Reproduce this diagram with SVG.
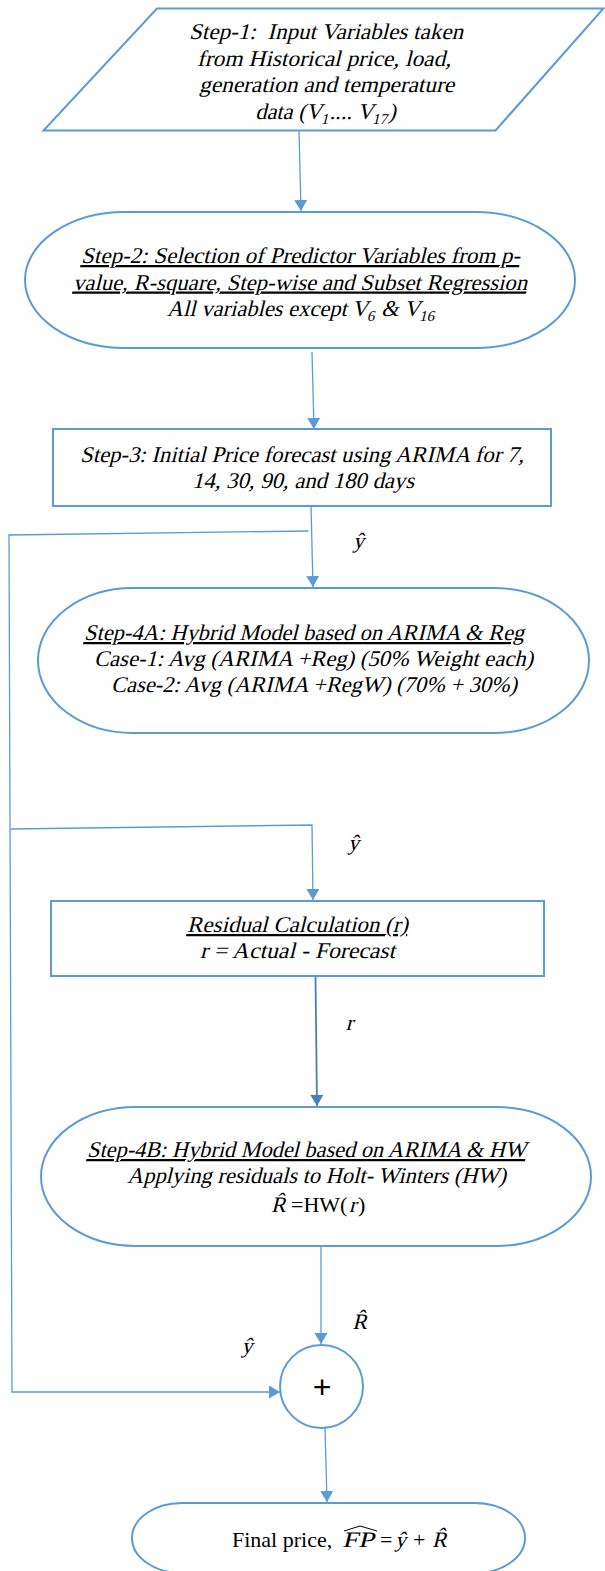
<svg xmlns="http://www.w3.org/2000/svg" width="605" height="1571" viewBox="0 0 605 1571">
<style>
.shape{fill:#fff;stroke:#5b9bd5;stroke-width:2}
.conn{fill:none;stroke:#5b9bd5;stroke-width:1.3}
.t{font-family:"Liberation Serif","Times New Roman",serif;font-size:22.5px;fill:#000;text-anchor:middle}
.s{font-family:"Liberation Serif","Times New Roman",serif;font-size:22px;fill:#000}
.u{text-decoration:underline}
.lbl{font-family:"Liberation Serif","Times New Roman",serif;font-size:22px;fill:#000;text-anchor:middle}
</style>
<defs>
<marker id="ah" markerUnits="userSpaceOnUse" markerWidth="12" markerHeight="14" refX="11" refY="6.5" orient="auto"><path d="M0,0 L11,6.5 L0,13 z" fill="#5b9bd5"/></marker>
<marker id="ahd" markerUnits="userSpaceOnUse" markerWidth="12" markerHeight="14" refX="11" refY="6.5" orient="auto"><path d="M0,0 L11,6.5 L0,13 z" fill="#4a7ebb"/></marker>
</defs>
<g id="connectors">
<path class="conn" d="M299,131 L301,211" marker-end="url(#ah)"/>
<path class="conn" d="M312,352 L314,429" marker-end="url(#ah)"/>
<path class="conn" d="M311,506 L313,587" marker-end="url(#ah)"/>
<path class="conn" d="M308.5,531 L9,535 L12,1392 L280,1392" marker-end="url(#ah)"/>
<path class="conn" d="M11,829 L312,825 L313,900" marker-end="url(#ah)"/>
<path d="M315.5,977 L317,1106" fill="none" stroke="#4a7ebb" stroke-width="1.8" marker-end="url(#ahd)"/>
<path class="conn" d="M321,1246 L321,1344" marker-end="url(#ah)"/>
<path class="conn" d="M325,1428 L327,1502" marker-end="url(#ah)"/>
<text class="lbl" transform="translate(358.5,548) skewX(-14)">ŷ</text>
<text class="lbl" transform="translate(353.5,850) skewX(-14)">ŷ</text>
<text class="lbl" transform="translate(349.5,1030) skewX(-14)">r</text>
<text class="lbl" transform="translate(359.5,1329) skewX(-14)">R̂</text>
<text class="lbl" transform="translate(247,1353) skewX(-14)">ŷ</text>
</g>
<g id="step1">
<polygon class="shape" points="157,8.5 603.5,8.5 495.5,130.5 43.5,130.5"/>
<text class="t" transform="translate(326,39) skewX(-14)" textLength="274" lengthAdjust="spacingAndGlyphs" xml:space="preserve">Step-1:  Input Variables taken</text>
<text class="t" transform="translate(324,65.5) skewX(-14)" textLength="254" lengthAdjust="spacingAndGlyphs">from Historical price, load,</text>
<text class="t" transform="translate(326.5,92) skewX(-14)" textLength="255" lengthAdjust="spacingAndGlyphs">generation and temperature</text>
<text class="t" transform="translate(325.5,118.5) skewX(-14)">data (V<tspan font-size="15" dy="5">1</tspan><tspan dy="-5">.... V</tspan><tspan font-size="15" dy="5">17</tspan><tspan dy="-5">)</tspan></text>
</g>
<g id="step2">
<rect class="shape" x="25" y="212" width="550" height="136" rx="100" ry="68"/>
<text class="t u" transform="translate(300.5,263) skewX(-14)" textLength="439" lengthAdjust="spacingAndGlyphs">Step-2: Selection of Predictor Variables from p-</text>
<text class="t u" transform="translate(300,289.5) skewX(-14)" textLength="454" lengthAdjust="spacingAndGlyphs">value, R-square, Step-wise and Subset Regression</text>
<text class="t" transform="translate(301,316) skewX(-14)">All variables except V<tspan font-size="15" dy="5">6</tspan><tspan dy="-5"> &amp; V</tspan><tspan font-size="15" dy="5">16</tspan></text>
</g>
<g id="step3">
<rect class="shape" x="53" y="429" width="498" height="77"/>
<text class="t" transform="translate(302,462) skewX(-14)" textLength="444" lengthAdjust="spacingAndGlyphs">Step-3: Initial Price forecast using ARIMA for 7,</text>
<text class="t" transform="translate(303,488) skewX(-14)" textLength="222" lengthAdjust="spacingAndGlyphs">14, 30, 90, and 180 days</text>
</g>
<g id="step4a">
<rect class="shape" x="38" y="588" width="551" height="145" rx="95" ry="72.5"/>
<text class="t u" transform="translate(304,640) skewX(-14)" textLength="440" lengthAdjust="spacingAndGlyphs">Step-4A: Hybrid Model based on ARIMA &amp; Reg</text>
<text class="t" transform="translate(313.5,666) skewX(-14)" textLength="439" lengthAdjust="spacingAndGlyphs">Case-1: Avg (ARIMA +Reg) (50% Weight each)</text>
<text class="t" transform="translate(314,692) skewX(-14)" textLength="406" lengthAdjust="spacingAndGlyphs">Case-2: Avg (ARIMA +RegW) (70% + 30%)</text>
</g>
<g id="residual">
<rect class="shape" x="51" y="901" width="493" height="75"/>
<text class="t u" transform="translate(297.5,932) skewX(-14)" textLength="221" lengthAdjust="spacingAndGlyphs">Residual Calculation (r)</text>
<text class="t" transform="translate(297.5,958) skewX(-14)" textLength="195" lengthAdjust="spacingAndGlyphs">r = Actual - Forecast</text>
</g>
<g id="step4b">
<rect class="shape" x="41" y="1107" width="550" height="139" rx="95" ry="69.5"/>
<text class="t u" transform="translate(306.5,1157) skewX(-14)" textLength="439" lengthAdjust="spacingAndGlyphs">Step-4B: Hybrid Model based on ARIMA &amp; HW</text>
<text class="t" transform="translate(316.5,1183) skewX(-14)" textLength="379" lengthAdjust="spacingAndGlyphs">Applying residuals to Holt- Winters (HW)</text>
<text class="s" transform="translate(271,1212) skewX(-14)">R̂</text>
<text class="s" x="291" y="1212">=HW(</text>
<text class="s" transform="translate(349,1212) skewX(-14)">r</text>
<text class="s" x="358" y="1212">)</text>
</g>
<g id="sum">
<circle class="shape" cx="321.5" cy="1386.5" r="41.5"/>
<text x="322" y="1398" font-family="Liberation Sans, Arial, sans-serif" font-size="32" text-anchor="middle" fill="#000">+</text>
</g>
<g id="final">
<rect class="shape" x="132" y="1503" width="393" height="70" rx="50" ry="35"/>
<text class="s" x="232" y="1547">Final price,</text>
<text class="s" transform="translate(342,1547) skewX(-14)" textLength="32" lengthAdjust="spacingAndGlyphs">FP</text>
<text class="s" x="380" y="1547">=</text>
<text class="s" transform="translate(395,1547) skewX(-14)">ŷ</text>
<text class="s" x="413" y="1547">+</text>
<text class="s" transform="translate(432,1547) skewX(-14)">R̂</text>
<polyline points="344,1531 360,1526 377,1531" fill="none" stroke="#000" stroke-width="1"/>
</g>
</svg>
